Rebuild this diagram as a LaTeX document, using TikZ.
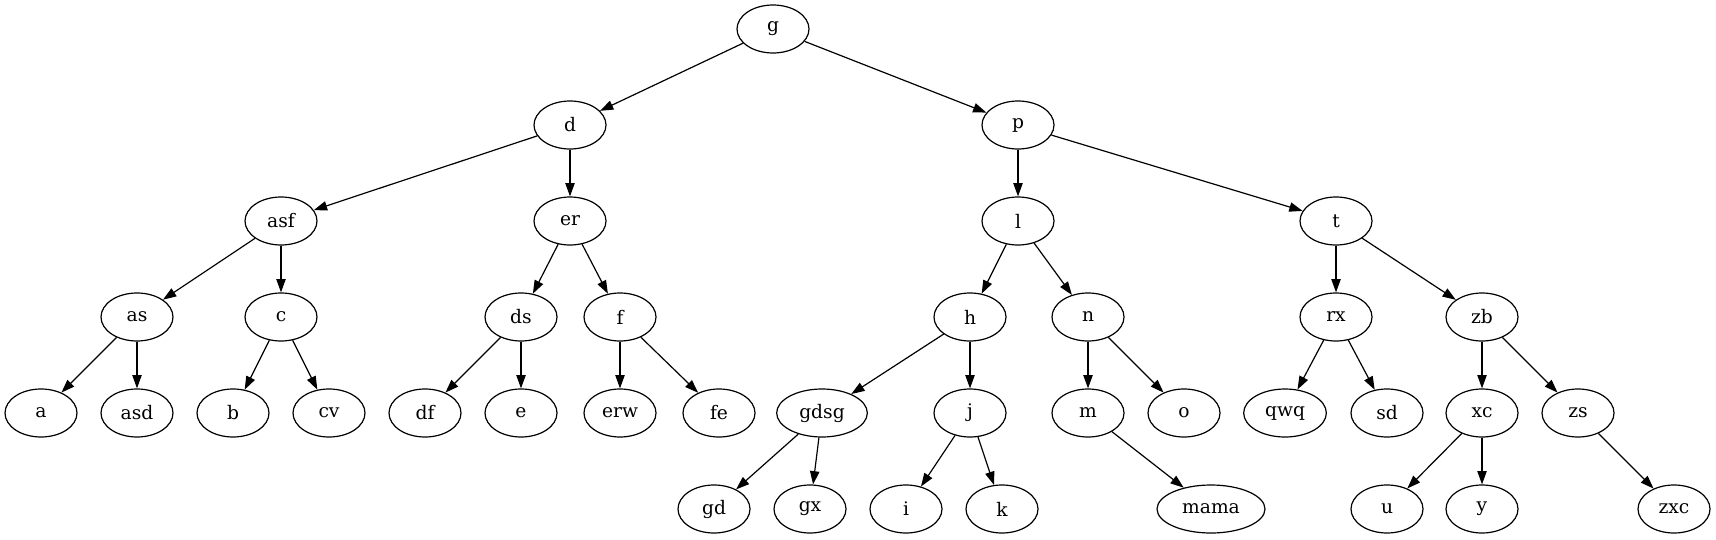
\documentclass[tikz,border=0pt]{standalone}
\usepackage{fontspec}
\setmainfont{DejaVu Serif}
\usepackage{tikz}
\usetikzlibrary{shapes.geometric, arrows.meta}

\tikzset{
  treenode/.style={ellipse, draw, line width=0.9pt, minimum width=54pt, minimum height=36pt,
    inner sep=1pt, font=\fontsize{14}{16}\selectfont},
  treeedge/.style={line width=0.9pt, -{Triangle[length=10pt,width=7pt]}}
}

\begin{document}
\begin{tikzpicture}[x=0.75pt, y=-0.75pt]
\useasboundingbox (0,0) rectangle (1716,539);

% Root and first levels
\node[treenode] (g) at (773,29) {g};
\node[treenode] (d) at (570,125) {d};
\node[treenode] (p) at (1018,125) {p};
\node[treenode] (asf) at (281,221) {asf};
\node[treenode] (er) at (570,221) {er};
\node[treenode] (l) at (1018,221) {l};
\node[treenode] (t) at (1336,221) {t};

% Level 4
\node[treenode] (as) at (137,317) {as};
\node[treenode] (c) at (281,317) {c};
\node[treenode] (ds) at (521,317) {ds};
\node[treenode] (f) at (620,317) {f};
\node[treenode] (h) at (970,317) {h};
\node[treenode] (n) at (1088,317) {n};
\node[treenode] (rx) at (1336,317) {rx};
\node[treenode] (zb) at (1482,317) {zb};

% Level 5
\node[treenode] (a) at (41,413) {a};
\node[treenode] (asd) at (137,413) {asd};
\node[treenode] (b) at (233,413) {b};
\node[treenode] (cv) at (329,413) {cv};
\node[treenode] (df) at (425,413) {df};
\node[treenode] (e) at (521,413) {e};
\node[treenode] (erw) at (620,413) {erw};
\node[treenode] (fe) at (719,413) {fe};
\node[treenode, minimum width=68pt] (gdsg) at (822,413) {gdsg};
\node[treenode] (j) at (970,413) {j};
\node[treenode] (m) at (1088,413) {m};
\node[treenode] (o) at (1184,413) {o};
\node[treenode, minimum width=62pt] (qwq) at (1285,413) {qwq};
\node[treenode] (sd) at (1387,413) {sd};
\node[treenode] (xc) at (1482,413) {xc};
\node[treenode] (zs) at (1578,413) {zs};

% Leaves
\node[treenode] (gd) at (714,509) {gd};
\node[treenode] (gx) at (810,509) {gx};
\node[treenode] (i) at (906,509) {i};
\node[treenode] (k) at (1002,509) {k};
\node[treenode, minimum width=81pt] (mama) at (1211,509) {mama};
\node[treenode] (u) at (1387,509) {u};
\node[treenode] (y) at (1482,509) {y};
\node[treenode] (zxc) at (1674,509) {zxc};

% Edges
\foreach \from/\to in {g/d, g/p, d/asf, d/er, p/l, p/t,
    asf/as, asf/c, er/ds, er/f, l/h, l/n, t/rx, t/zb,
    as/a, as/asd, c/b, c/cv, ds/df, ds/e, f/erw, f/fe,
    h/gdsg, h/j, n/m, n/o, rx/qwq, rx/sd, zb/xc, zb/zs,
    gdsg/gd, gdsg/gx, j/i, j/k, m/mama, xc/u, xc/y, zs/zxc} {
    \draw[treeedge] (\from) -- (\to);
}
\end{tikzpicture}
\end{document}
